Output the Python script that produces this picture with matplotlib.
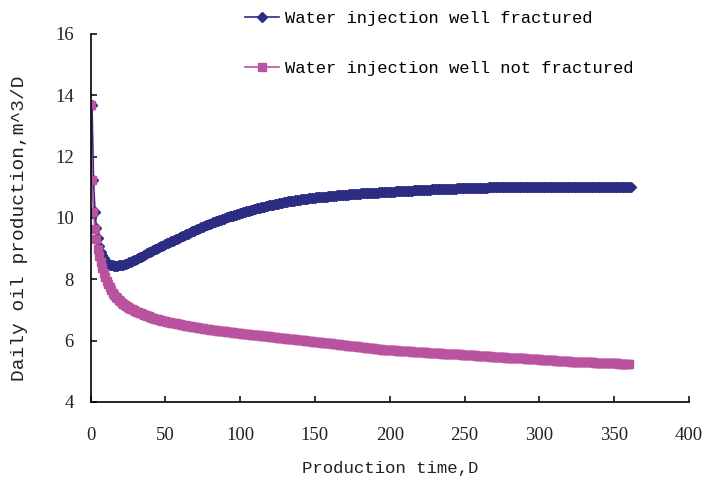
import numpy as np
import matplotlib
matplotlib.use("Agg")
import matplotlib.pyplot as plt

# daily oil production, m^3/D, one value per day
fractured = [
    13.68, 11.24, 10.20, 9.67, 9.35, 9.10, 8.90, 8.78, 8.68, 8.60,
    8.55, 8.51, 8.48, 8.47, 8.46, 8.45, 8.45, 8.45, 8.46, 8.46, 8.47,
    8.48, 8.50, 8.51, 8.53, 8.55, 8.57, 8.59, 8.62, 8.64, 8.67,
    8.69, 8.72, 8.74, 8.77, 8.80, 8.82, 8.85, 8.88, 8.90, 8.93,
    8.95, 8.98, 9.00, 9.03, 9.05, 9.08, 9.10, 9.12, 9.15, 9.17,
    9.19, 9.22, 9.24, 9.26, 9.28, 9.31, 9.33, 9.35, 9.38, 9.40,
    9.42, 9.45, 9.47, 9.49, 9.52, 9.54, 9.56, 9.58, 9.61, 9.63,
    9.65, 9.67, 9.70, 9.72, 9.74, 9.76, 9.78, 9.80, 9.82, 9.84,
    9.86, 9.88, 9.89, 9.91, 9.93, 9.95, 9.97, 9.98, 10.00, 10.02,
    10.03, 10.05, 10.06, 10.08, 10.10, 10.11, 10.13, 10.14, 10.16, 10.17,
    10.19, 10.20, 10.22, 10.23, 10.24, 10.26, 10.27, 10.28, 10.30, 10.31,
    10.32, 10.33, 10.35, 10.36, 10.37, 10.38, 10.39, 10.41, 10.42, 10.43,
    10.44, 10.45, 10.46, 10.47, 10.48, 10.49, 10.50, 10.51, 10.52, 10.53,
    10.54, 10.55, 10.55, 10.56, 10.57, 10.58, 10.59, 10.59, 10.60, 10.61,
    10.61, 10.62, 10.63, 10.63, 10.64, 10.65, 10.65, 10.66, 10.66, 10.67,
    10.67, 10.68, 10.68, 10.69, 10.69, 10.70, 10.70, 10.71, 10.71, 10.72,
    10.72, 10.73, 10.73, 10.74, 10.74, 10.74, 10.75, 10.75, 10.76, 10.76,
    10.76, 10.77, 10.77, 10.78, 10.78, 10.78, 10.79, 10.79, 10.79, 10.80,
    10.80, 10.80, 10.81, 10.81, 10.81, 10.82, 10.82, 10.82, 10.83, 10.83,
    10.83, 10.84, 10.84, 10.84, 10.85, 10.85, 10.85, 10.85, 10.86, 10.86,
    10.86, 10.86, 10.87, 10.87, 10.87, 10.87, 10.88, 10.88, 10.88, 10.88,
    10.89, 10.89, 10.89, 10.89, 10.90, 10.90, 10.90, 10.90, 10.91, 10.91,
    10.91, 10.91, 10.92, 10.92, 10.92, 10.92, 10.93, 10.93, 10.93, 10.93,
    10.94, 10.94, 10.94, 10.94, 10.95, 10.95, 10.95, 10.95, 10.96, 10.96,
    10.96, 10.96, 10.96, 10.97, 10.97, 10.97, 10.97, 10.97, 10.97, 10.98,
    10.98, 10.98, 10.98, 10.98, 10.98, 10.98, 10.99, 10.99, 10.99, 10.99,
    10.99, 10.99, 10.99, 10.99, 11.00, 11.00, 11.00, 11.00, 11.00, 11.00,
    11.00, 11.00, 11.00, 11.00, 11.00, 11.00, 11.00, 11.00, 11.00, 11.00,
    11.00, 11.00, 11.00, 11.00, 11.00, 11.00, 11.00, 11.00, 11.00, 11.00,
    11.00, 11.00, 11.00, 11.00, 11.00, 11.00, 11.00, 11.00, 11.00, 11.00,
    11.00, 11.00, 11.00, 11.00, 11.00, 11.00, 11.00, 11.00, 11.00, 11.00,
    11.00, 11.00, 11.00, 11.00, 11.00, 11.00, 11.00, 11.00, 11.00, 11.00,
    11.00, 11.00, 11.00, 11.00, 11.00, 11.00, 11.00, 11.00, 11.00, 11.00,
    11.00, 11.00, 11.00, 11.00, 11.00, 11.00, 11.00, 11.00, 11.00, 11.00,
    11.00, 11.00, 11.00, 11.00, 11.00, 11.00, 11.00, 11.00, 11.00, 11.00,
    11.00, 11.00, 11.00, 11.00, 11.00, 11.00, 11.00, 11.00, 11.00, 11.00,
]

not_fractured = [
    13.68, 11.24, 10.20, 9.64, 9.30, 9.00, 8.75, 8.55, 8.38, 8.22,
    8.07, 7.95, 7.84, 7.74, 7.65, 7.57, 7.50, 7.44, 7.38, 7.33,
    7.28, 7.24, 7.20, 7.17, 7.13, 7.10, 7.07, 7.04, 7.02, 6.99, 6.97,
    6.95, 6.93, 6.91, 6.89, 6.87, 6.85, 6.83, 6.81, 6.79, 6.77,
    6.75, 6.74, 6.72, 6.71, 6.70, 6.68, 6.67, 6.65, 6.64, 6.63,
    6.62, 6.61, 6.60, 6.59, 6.58, 6.57, 6.56, 6.55, 6.54, 6.53,
    6.52, 6.51, 6.50, 6.49, 6.48, 6.47, 6.47, 6.46, 6.45, 6.44,
    6.43, 6.42, 6.42, 6.41, 6.40, 6.39, 6.39, 6.38, 6.37, 6.36,
    6.36, 6.35, 6.34, 6.34, 6.33, 6.32, 6.32, 6.31, 6.30, 6.30,
    6.29, 6.28, 6.28, 6.27, 6.27, 6.26, 6.25, 6.25, 6.24, 6.24,
    6.23, 6.23, 6.22, 6.22, 6.21, 6.21, 6.20, 6.20, 6.19, 6.19,
    6.18, 6.17, 6.17, 6.16, 6.16, 6.15, 6.15, 6.14, 6.14, 6.13,
    6.13, 6.12, 6.12, 6.11, 6.10, 6.10, 6.09, 6.09, 6.08, 6.08,
    6.07, 6.07, 6.06, 6.06, 6.05, 6.04, 6.04, 6.03, 6.03, 6.02,
    6.02, 6.01, 6.01, 6.00, 5.99, 5.99, 5.98, 5.98, 5.97, 5.97,
    5.96, 5.96, 5.95, 5.95, 5.94, 5.93, 5.93, 5.92, 5.92, 5.91,
    5.91, 5.90, 5.89, 5.89, 5.88, 5.88, 5.87, 5.87, 5.86, 5.85,
    5.85, 5.84, 5.84, 5.83, 5.83, 5.82, 5.81, 5.81, 5.80, 5.80,
    5.79, 5.79, 5.78, 5.77, 5.77, 5.76, 5.76, 5.75, 5.75, 5.74,
    5.73, 5.73, 5.72, 5.72, 5.71, 5.71, 5.70, 5.70, 5.69, 5.69,
    5.69, 5.68, 5.68, 5.68, 5.67, 5.67, 5.67, 5.66, 5.66, 5.66,
    5.66, 5.65, 5.65, 5.65, 5.64, 5.64, 5.64, 5.63, 5.63, 5.63,
    5.63, 5.62, 5.62, 5.62, 5.61, 5.61, 5.61, 5.60, 5.60, 5.60,
    5.60, 5.59, 5.59, 5.59, 5.58, 5.58, 5.58, 5.57, 5.57, 5.57,
    5.56, 5.56, 5.56, 5.56, 5.55, 5.55, 5.55, 5.54, 5.54, 5.54,
    5.53, 5.53, 5.53, 5.52, 5.52, 5.52, 5.52, 5.51, 5.51, 5.51,
    5.50, 5.50, 5.50, 5.49, 5.49, 5.49, 5.49, 5.48, 5.48, 5.48,
    5.47, 5.47, 5.47, 5.46, 5.46, 5.46, 5.46, 5.45, 5.45, 5.45,
    5.44, 5.44, 5.44, 5.43, 5.43, 5.43, 5.43, 5.42, 5.42, 5.42,
    5.41, 5.41, 5.41, 5.40, 5.40, 5.40, 5.40, 5.39, 5.39, 5.39,
    5.38, 5.38, 5.38, 5.37, 5.37, 5.37, 5.37, 5.36, 5.36, 5.36,
    5.35, 5.35, 5.35, 5.34, 5.34, 5.34, 5.34, 5.33, 5.33, 5.33,
    5.32, 5.32, 5.32, 5.31, 5.31, 5.31, 5.31, 5.30, 5.30, 5.30,
    5.30, 5.30, 5.29, 5.29, 5.29, 5.29, 5.28, 5.28, 5.28, 5.28,
    5.28, 5.27, 5.27, 5.27, 5.27, 5.27, 5.26, 5.26, 5.26, 5.26,
    5.26, 5.26, 5.25, 5.25, 5.25, 5.25, 5.25, 5.25, 5.25, 5.25,
]

labels = ["Water injection well fractured", "Water injection well not fractured"]

# the fractured curve sits one day to the right of the other one
days_frac = np.arange(1, len(fractured) + 1)
days_nofrac = np.arange(0, len(not_fractured))

NAVY = "#2B2C82"
PINK = "#B9529F"
MONO = "Liberation Mono"
SERIF = "Liberation Serif"

fig = plt.figure(figsize=(7.03, 4.83), dpi=100)
# axes: x from px 90.5 to 689, y from px 402 (bottom) to 34 (top)
ax = fig.add_axes([90.5 / 703, 81 / 483, 598.5 / 703, 368 / 483])

ax.plot(days_frac, fractured, color=NAVY, marker="D", markersize=4.6,
        linewidth=1.2, label=labels[0])
ax.plot(days_nofrac, not_fractured, color=PINK, marker="s", markersize=6,
        linewidth=1.2, label=labels[1])

ax.set_xlim(0, 400)
ax.set_ylim(4, 16)
ax.set_xticks(range(0, 401, 50))
ax.set_yticks(range(4, 17, 2))

for s in ["top", "right"]:
    ax.spines[s].set_visible(False)
for s in ["left", "bottom"]:
    ax.spines[s].set_linewidth(1.2)
    ax.spines[s].set_color("black")

ax.tick_params(axis="both", direction="in", length=4, width=1.1, colors="black")
ax.tick_params(axis="x", pad=18)
ax.tick_params(axis="y", pad=12)
for t in ax.get_xticklabels() + ax.get_yticklabels():
    t.set_fontfamily(SERIF)
    t.set_fontsize(13.5)
    t.set_color("#222222")

ax.set_xlabel("Production time,D", fontfamily=MONO, fontsize=12.5,
              labelpad=12, color="#222222")
fig.text(20 / 703, 1 - 228 / 483, "Daily oil production,m^3/D",
         fontfamily=MONO, fontsize=14, rotation=90, ha="center", va="center",
         color="#222222")

fig.legend(loc="upper left", bbox_to_anchor=(0.3485, 0.977), frameon=False,
           prop={"family": MONO, "size": 12.3}, borderpad=0, borderaxespad=0,
           handlelength=2.0, handletextpad=0.35, labelspacing=2.05)

fig.savefig("out.png", dpi=100)
